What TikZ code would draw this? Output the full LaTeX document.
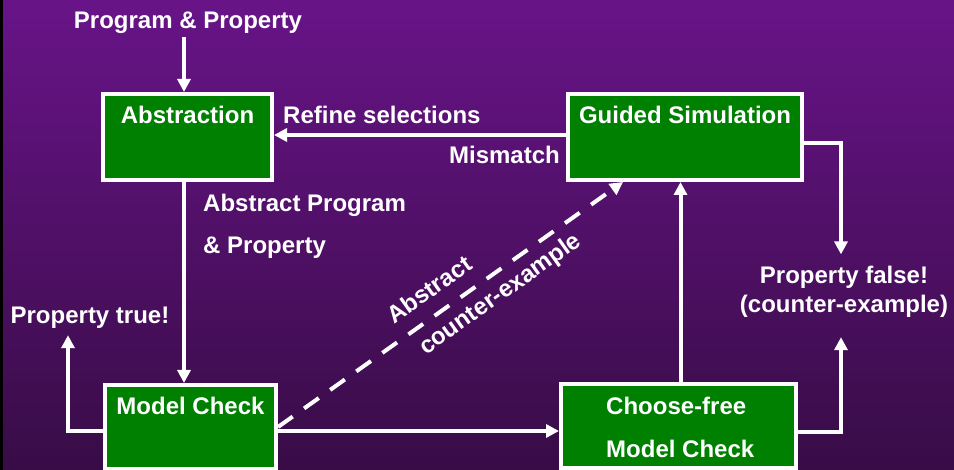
\documentclass[tikz,border=0pt]{standalone}
\usepackage{fontspec}
\setmainfont{Liberation Sans}
\usetikzlibrary{arrows.meta,positioning}
\definecolor{slidetop}{RGB}{104,20,136}
\definecolor{slidebot}{RGB}{56,12,70}
\definecolor{boxgreen}{RGB}{0,128,0}
\tikzset{
    flow diagram/.style = {x=1pt, y=-1pt, >={Triangle[length=13pt, width=13pt]}},
    box/.style          = {draw=white, line width=4pt, fill=boxgreen, inner sep=0pt},
    boxtitle/.style     = {text=white, inner sep=0pt,
                           font=\bfseries\fontsize{24}{29}\selectfont},
    lbl/.style          = {boxtitle},
    line/.style         = {white, line width=4pt},
    dashline/.style     = {line, dash pattern=on 18pt off 14pt}
}
\begin{document}
\begin{tikzpicture}[flow diagram]

% Slide background.
\useasboundingbox (0,0) rectangle (954,470);
\clip (0,0) rectangle (954,470);
\shade[top color=slidetop, bottom color=slidebot] (0,0) rectangle (954,470);
\fill[black] (0,0) rectangle (3,470);

% The four steps of the loop.
\node[box, minimum width=169pt, minimum height=86pt] (abs) at (187.5,137) {};
\node[boxtitle, anchor=base] (abs-title) at ([yshift=-32pt]abs.north) {Abstraction};
\node[box, minimum width=234pt, minimum height=86pt] (sim) at (685,137) {};
\node[boxtitle, anchor=base] (sim-title) at ([yshift=-32pt]sim.north) {Guided Simulation};
\node[box, minimum width=171pt, minimum height=84pt] (mc) at (190.5,427) {};
\node[boxtitle, anchor=base] (mc-title) at ([yshift=-32pt]mc.north) {Model Check};
\node[box, minimum width=235pt, minimum height=84pt] (cfmc) at (678.5,426) {};
\node[boxtitle, anchor=base west, align=left] (cfmc-title)
    at ([xshift=47pt, yshift=-75pt]cfmc.north west) {Choose-free\\[14pt]Model Check};

% Free labels (multi-line ones sit on their last baseline).
\node[lbl, anchor=base] (prog) at (188,29) {Program \& Property};
\node[lbl, anchor=base west] (refine) at ([xshift=9pt]abs.east |- abs-title.base) {Refine selections};
\node[lbl, anchor=base east] (mismatch) at ([xshift=-6pt, yshift=-27pt]sim.west) {Mismatch};
\node[lbl, anchor=base west, align=left] (absprog) at (203,254) {Abstract Program\\[13pt]\& Property};
\node[lbl, anchor=base] (ptrue) at (90,324) {Property true!};
\node[lbl, anchor=base, align=center] (pfalse) at (844,313) {Property false!\\(counter-example)};

% Connectors.
\draw[->,line,shorten <=3pt] ([xshift=-4pt]prog.south) -- ([xshift=-4pt]prog.south |- abs.north);
\draw[->,line] ([yshift=2pt]sim.west) -- ([yshift=2pt]abs.east);
\draw[->,line] ([xshift=-3.5pt]abs.south) -- ([xshift=-3.5pt]abs.south |- mc.north);
\draw[->,line] ([yshift=-4pt]mc.west) -| ([xshift=-22pt, yshift=-6pt]ptrue.south);
\draw[->,line] ([yshift=-4pt]mc.east) -- ([yshift=-4pt]mc.east -| cfmc.west);
\draw[->,dashline] (mc.east) -- ([xshift=-62pt]sim.south)
    node[lbl, sloped, pos=.48, above=14pt] (cex-top) {Abstract}
    node[lbl, sloped, pos=.61, below=8pt] (cex-bot) {counter-example};
\draw[->,line] ([xshift=2pt]cfmc.north) -- ([xshift=2pt]cfmc.north |- sim.south);
\draw[->,line] ([yshift=-6pt]sim.east) -| ([xshift=-3pt, yshift=12pt]pfalse.north);
\draw[->,line] ([yshift=-6pt]cfmc.east) -| ([xshift=-3pt, yshift=-19pt]pfalse.south);

\end{tikzpicture}
\end{document}
